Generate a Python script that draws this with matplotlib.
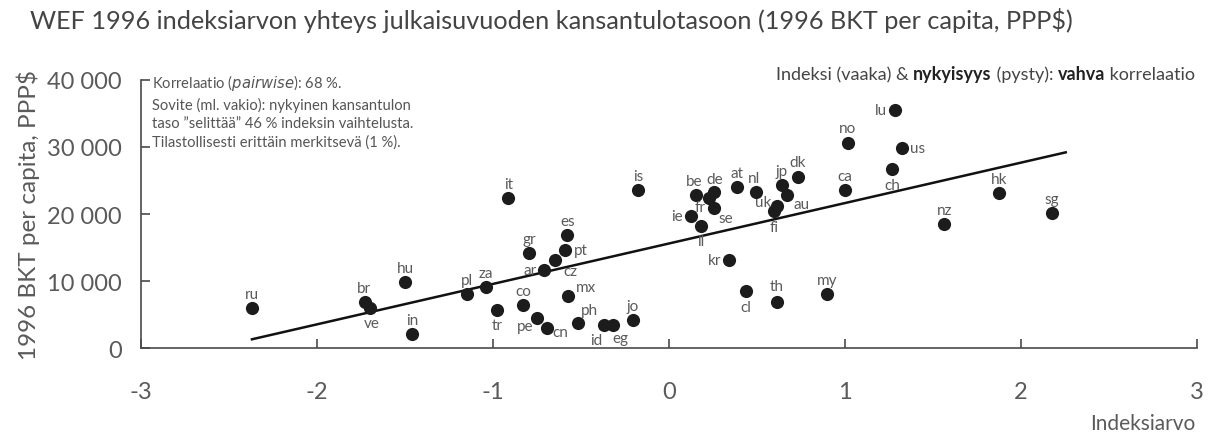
import numpy as np
import matplotlib
matplotlib.use("Agg")
import matplotlib.pyplot as plt

plt.rcParams["font.family"] = ["Lato", "DejaVu Sans"]

# country codes, WEF 1996 index value and 1996 GDP per capita (PPP$)
countries = ["ru", "br", "ve", "hu", "in", "pl", "za", "tr", "it", "is",
             "es", "gr", "pt", "cz", "ar", "co", "mx", "pe", "cn", "ph",
             "id", "eg", "jo", "be", "de", "fr", "se", "ie", "il", "at",
             "nl", "jp", "dk", "au", "uk", "fi", "kr", "cl", "th", "lu",
             "no", "us", "ch", "ca", "hk", "nz", "my", "sg"]
index_value = [-2.37, -1.73, -1.70, -1.50, -1.46, -1.15, -1.04, -0.975, -0.913, -0.176,
               -0.578, -0.795, -0.589, -0.646, -0.708, -0.828, -0.574, -0.75, -0.691, -0.515,
               -0.369, -0.32, -0.205, 0.153, 0.258, 0.227, 0.258, 0.123, 0.182, 0.388,
               0.494, 0.642, 0.731, 0.672, 0.615, 0.598, 0.343, 0.4375, 0.612, 1.284,
               1.015, 1.326, 1.269, 1.0, 1.877, 1.564, 0.9, 2.174]
gdp = [5970, 6870, 5970, 9900, 2140, 8010, 9150, 5720, 22390, 23580,
       16910, 14220, 14670, 13180, 11600, 6460, 7760, 4530, 2985, 3780,
       3430, 3430, 4180, 22840, 23240, 22390, 20850, 19660, 18160, 23980,
       23240, 24380, 25570, 22840, 21240, 20400, 13180, 8460, 6910, 35520,
       30550, 29810, 26670, 23630, 23130, 18510, 8060, 20100]

y_ticks = [0, 10000, 20000, 30000, 40000]
y_tick_labels = ["0", "10 000", "20 000", "30 000", "40 000"]
x_ticks = [-3, -2, -1, 0, 1, 2, 3]

# label offsets in pixels (dx, dy, ha)
offsets = {
    "ru": (0, 14, "center"), "br": (-1, 14, "center"), "ve": (2, -15, "center"),
    "hu": (0, 14, "center"), "in": (0, 14, "center"), "pl": (0, 14, "center"),
    "za": (0, 14, "center"), "tr": (0, -15, "center"), "it": (0, 14, "center"),
    "is": (0, 14, "center"), "es": (0, 14, "center"), "gr": (0, 14, "center"),
    "pt": (8, 0, "left"), "cz": (8, -11, "left"), "ar": (-8, 0, "right"),
    "co": (0, 14, "center"), "mx": (8, 9, "left"), "pe": (-4, -8, "right"),
    "cn": (5, -4, "left"), "ph": (2, 13, "left"), "id": (-2, -15, "right"),
    "eg": (0, -13, "left"), "jo": (0, 14, "center"), "be": (-2, 14, "center"),
    "de": (0, 13, "center"), "fr": (-3, -9, "right"), "se": (4, -10, "left"),
    "ie": (-8, 0, "right"), "il": (0, -15, "center"), "at": (0, 14, "center"),
    "nl": (-2, 14, "center"), "jp": (0, 14, "center"), "dk": (0, 15, "center"),
    "au": (6, -9, "left"), "uk": (-6, 4, "right"), "fi": (0, -16, "center"),
    "kr": (-8, 0, "right"), "cl": (0, -16, "center"), "th": (0, 16, "center"),
    "lu": (-8, 0, "right"), "no": (0, 15, "center"), "us": (8, 0, "left"),
    "ch": (0, -16, "center"), "ca": (0, 14, "center"), "hk": (0, 14, "center"),
    "nz": (0, 14, "center"), "my": (0, 14, "center"), "sg": (0, 14, "center"),
}

x = np.array(index_value)
y = np.array(gdp)

gray = "#4a4a4a"
fig = plt.figure(figsize=(12.16, 4.39), dpi=100)
ax = fig.add_axes([0.116, 0.205, 0.8684, 0.6105])

# fitted line (with constant)
slope, intercept = np.polyfit(x, y, 1)
xl = np.array([x.min(), x.max() + 0.08])
ax.plot(xl, slope * xl + intercept, color="#111111", lw=1.8, zorder=2)

ax.scatter(x, y, s=90, color="#1c1c1c", zorder=3, linewidths=0)
for c, xi, yi in zip(countries, x, y):
    dx, dy, ha = offsets[c]
    ax.annotate(c, (xi, yi), xytext=(dx, dy), textcoords="offset pixels",
                ha=ha, va="center", fontsize=11, color="#5a5a5a")

ax.set_xlim(-3, 3)
ax.set_ylim(0, 40000)
ax.set_xticks(x_ticks)
ax.set_xticklabels([str(t) for t in x_ticks])
ax.set_yticks(y_ticks)
ax.set_yticklabels(y_tick_labels)
for s in ["top", "right"]:
    ax.spines[s].set_visible(False)
for s in ["left", "bottom"]:
    ax.spines[s].set_color(gray)
    ax.spines[s].set_linewidth(1.2)
ax.tick_params(axis="both", direction="in", length=6.5, width=1.2, color=gray,
               labelcolor="#5a5a5a", labelsize=17)
ax.tick_params(axis="x", pad=24)
ax.tick_params(axis="y", pad=14)

ax.set_ylabel("1996 BKT per capita, PPP$", fontsize=17.5, color="#5a5a5a", labelpad=5)
fig.text(0.983, 0.012, "Indeksiarvo", ha="right", va="bottom", fontsize=15, color="#5a5a5a")

fig.text(0.025, 0.953, "WEF 1996 indeksiarvon yhteys julkaisuvuoden kansantulotasoon (1996 BKT per capita, PPP$)",
         ha="left", va="center", fontsize=18.2, color="#444444")

note = ("Korrelaatio ($\\it{pairwise}$): 68 %.\n"
        "Sovite (ml. vakio): nykyinen kansantulon\n"
        "taso \u201dselittää\u201d 46 % indeksin vaihtelusta.\n"
        "Tilastollisesti erittäin merkitsevä (1 %).")
ax.text(0.01, 1.03, note, transform=ax.transAxes, ha="left", va="top",
        fontsize=10.6, color="#555555", linespacing=1.4)

# right-aligned mixed-weight caption, chained from right to left
parts = [("Indeksi (vaaka) & ", "normal"), ("nykyisyys", "bold"), (" (pysty): ", "normal"),
         ("vahva", "bold"), (" korrelaatio", "normal")]
prev = None
for txt, w in reversed(parts):
    if prev is None:
        prev = fig.text(0.983, 0.81, txt, ha="right", va="bottom", fontsize=13,
                        fontweight=w, color="#444444")
    else:
        prev = ax.annotate(txt, xy=(0, 0), xycoords=prev, ha="right", va="bottom",
                           fontsize=13, fontweight=w, color="#222222" if w == "bold" else "#444444")

fig.savefig("out.png", dpi=100, facecolor="white")
